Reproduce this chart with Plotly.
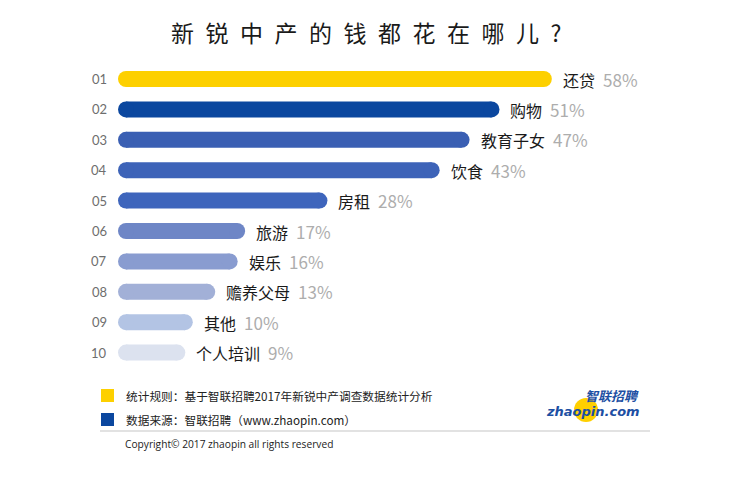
import plotly.graph_objects as go

ranks = ["01", "02", "03", "04", "05", "06", "07", "08", "09", "10"]
categories = ["还贷", "购物", "教育子女", "饮食", "房租", "旅游", "娱乐", "赡养父母", "其他", "个人培训"]
values = [58, 51, 47, 43, 28, 17, 16, 13, 10, 9]
colors = ["#FDD000", "#0B479F", "#3A5FB3", "#3D63B8", "#3E65BC", "#6E86C6",
          "#899CD0", "#A2B0D7", "#B3C4E4", "#DCE2EF"]
title = "新锐中产的钱都花在哪儿？"
note1 = "统计规则：基于智联招聘2017年新锐中产调查数据统计分析"
note2 = "数据来源：智联招聘（www.zhaopin.com）"
copyright_text = "Copyright© 2017 zhaopin all rights reserved"

W, H = 750, 502
OFF = 8            # page body margin
X0_PX = 118.0 - OFF
PX_PER = 7.48
ROW0 = 79.0 - OFF
ROW_STEP = 30.4
BAR_H = 16

xr = [-X0_PX / PX_PER, (W - X0_PX) / PX_PER]
yr = [(H - ROW0) / ROW_STEP, -ROW0 / ROW_STEP]
r = (BAR_H / 2) / PX_PER

CJK = "Noto Sans CJK SC"
fig = go.Figure()

for i, (v, c) in enumerate(zip(values, colors)):
    fig.add_trace(go.Scatter(
        x=[r, v - r], y=[i, i], mode="lines+markers",
        line=dict(color=c, width=BAR_H),
        marker=dict(color=c, size=BAR_H, line=dict(width=0)),
        hoverinfo="skip", showlegend=False))
    fig.add_annotation(x=v, y=i, xref="x", yref="y", xanchor="left", yanchor="middle",
                       xshift=9, showarrow=False,
                       text=f"{categories[i]}\u2002<span style='color:#ADADAD;font-size:17px'>{v}%</span>",
                       font=dict(family=CJK, size=16, color="#1a1a1a"))
    fig.add_annotation(x=0, y=i, xref="x", yref="y", xanchor="center", yanchor="middle",
                       xshift=-19, showarrow=False, text=ranks[i],
                       font=dict(family="Lato, Noto Sans", size=13, color="#6E6E6E"))

def py(p):
    return 1 - (p - OFF) / H

def px(p):
    return (p - OFF) / W

spaced_title = "\u2002".join(list(title[:-1])) + "\u2002?"
fig.add_annotation(x=px(366), y=py(32), xref="paper", yref="paper", showarrow=False,
                   text=spaced_title, xanchor="center", yanchor="middle",
                   font=dict(family=CJK, size=23, color="#1a1a1a"))

# notes
fig.add_shape(type="rect", xref="paper", yref="paper", x0=px(101), x1=px(114),
              y0=py(389), y1=py(402), fillcolor=colors[0], line=dict(width=0))
fig.add_shape(type="rect", xref="paper", yref="paper", x0=px(101), x1=px(114),
              y0=py(413), y1=py(426), fillcolor=colors[1], line=dict(width=0))
fig.add_annotation(x=px(124), y=py(395), xref="paper", yref="paper", showarrow=False,
                   xanchor="left", yanchor="middle", text=note1,
                   font=dict(family=CJK, size=11.7, color="#222"))
fig.add_annotation(x=px(124), y=py(419), xref="paper", yref="paper", showarrow=False,
                   xanchor="left", yanchor="middle", text=note2,
                   font=dict(family=CJK, size=11.7, color="#222"))
fig.add_shape(type="line", xref="paper", yref="paper", x0=px(100), x1=px(650),
              y0=py(431), y1=py(431), line=dict(color="#D8D8D8", width=1.5))
fig.add_annotation(x=px(123), y=py(444), xref="paper", yref="paper", showarrow=False,
                   xanchor="left", yanchor="middle", text=copyright_text,
                   font=dict(family="Open Sans", size=10.2, color="#222"))

# logo
fig.add_shape(type="circle", xref="paper", yref="paper", x0=px(574), x1=px(598),
              y0=py(398), y1=py(422), fillcolor="#FFD000", line=dict(width=0), layer="below")
fig.add_annotation(x=px(612), y=py(395), xref="paper", yref="paper", showarrow=False,
                   xanchor="center", yanchor="middle", text="<b><i>智联招聘</i></b>",
                   font=dict(family=CJK, size=13, color="#1D4FA3"))
fig.add_annotation(x=px(593), y=py(411), xref="paper", yref="paper", showarrow=False,
                   xanchor="center", yanchor="middle", text="<b><i>zhaopin.com</i></b>",
                   font=dict(family="DejaVu Sans", size=13, color="#1D4FA3"))

fig.update_xaxes(range=xr, visible=False, fixedrange=True)
fig.update_yaxes(range=yr, visible=False, fixedrange=True)
fig.update_layout(width=W, height=H, margin=dict(l=0, r=0, t=0, b=0),
                  paper_bgcolor="white", plot_bgcolor="white", showlegend=False)

fig.write_html("out.html")
